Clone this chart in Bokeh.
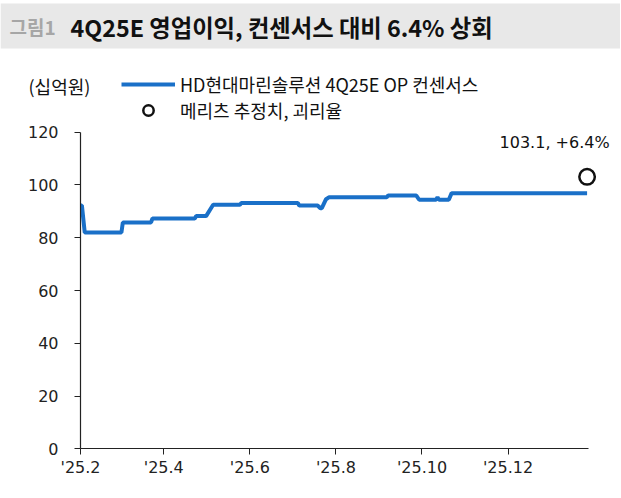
import pandas as pd
from bokeh.plotting import figure
from bokeh.models import (ColumnDataSource, FixedTicker, Range1d, Legend, LegendItem,
                          Label, BoxAnnotation)
from bokeh.embed import file_html
from bokeh.resources import INLINE

# ---------------- data ----------------
title_tag = "그림1"
title_text = "4Q25E 영업이익, 컨센서스 대비 6.4% 상회"
unit_label = "(십억원)"
series_name = "HD현대마린솔루션 4Q25E OP 컨센서스"
est_name = "메리츠 추정치, 괴리율"

cons_dates = ["2025-02-01", "2025-02-02", "2025-02-04", "2025-03-02", "2025-03-03",
              "2025-03-23", "2025-03-24", "2025-04-23", "2025-04-24", "2025-05-01",
              "2025-05-06", "2025-05-25", "2025-05-26", "2025-07-05", "2025-07-06",
              "2025-07-19", "2025-07-21", "2025-07-22", "2025-07-25", "2025-07-27",
              "2025-09-06", "2025-09-07", "2025-09-27", "2025-09-29", "2025-10-11",
              "2025-10-12", "2025-10-13", "2025-10-20", "2025-10-22", "2026-01-26"]
cons_values = [92.2, 92.2, 82.0, 82.0, 85.8,
               85.8, 87.3, 87.3, 88.2, 88.2,
               92.5, 92.5, 93.2, 93.2, 92.2,
               92.2, 91.2, 91.2, 94.6, 95.3,
               95.3, 96.0, 96.0, 94.4, 94.4,
               95.3, 94.4, 94.4, 96.9, 96.9]

est_date = "2026-01-26"
est_value = 103.1
est_text = "103.1, +6.4%"

x_start = "2025-02-01"
x_end = "2026-01-27"
x_tick_dates = ["2025-02-01", "2025-04-01", "2025-06-01", "2025-08-01", "2025-10-01", "2025-12-01"]
x_tick_labels = ["'25.2", "'25.4", "'25.6", "'25.8", "'25.10", "'25.12"]
y_min, y_max = 0, 120
y_ticks = [0, 20, 40, 60, 80, 100, 120]


def ms(s):
    return float(pd.Timestamp(s).value // 10**6)


# ---------------- layout (pixels) ----------------
W, H = 620, 496
AX_L, AX_R = 80, 588        # pixel columns where the x axis starts / ends
AX_TOP, AX_BOT = 131.7, 448.3   # pixel rows of y = 120 and y = 0

KRF = "Noto Sans CJK KR"
NUMF = "DejaVu Sans"

xs, xe = ms(x_start), ms(x_end)
x_scale = (xe - xs) / (AX_R - AX_L)
y_scale = (y_max - y_min) / (AX_BOT - AX_TOP)
x_range = Range1d(xs - AX_L * x_scale, xs + (W - AX_L) * x_scale)
y_range = Range1d(y_min - (H - AX_BOT) * y_scale, y_min + AX_BOT * y_scale)


def y_of_row(py):
    return y_min + (AX_BOT - py) * y_scale


p = figure(width=W, height=H, x_axis_type="datetime", x_range=x_range, y_range=y_range,
           toolbar_location=None, output_backend="svg", min_border=0)
p.grid.visible = False
p.outline_line_color = None
p.background_fill_color = "white"
p.border_fill_color = "white"

# title bar
p.add_layout(BoxAnnotation(top=y_of_row(3), bottom=y_of_row(48), fill_color="#e8e8e8",
                           fill_alpha=1, line_color=None, level="underlay"))
p.add_layout(Label(x=xs, y=y_max, x_offset=9 - AX_L, y_offset=AX_TOP - 26,
                   text=title_tag, text_align="left", text_baseline="middle",
                   text_font=KRF, text_font_style="bold", text_font_size="19px",
                   text_color="#a6a6a6"))
p.add_layout(Label(x=xs, y=y_max, x_offset=70 - AX_L, y_offset=AX_TOP - 26,
                   text=title_text, text_align="left", text_baseline="middle",
                   text_font=KRF, text_font_style="bold", text_font_size="23.3px",
                   text_color="#111111"))

# data
src = ColumnDataSource(dict(x=[ms(d) for d in cons_dates], y=cons_values))
line_r = p.line("x", "y", source=src, line_width=4, line_color="#1a70c8")

est_src = ColumnDataSource(dict(x=[ms(est_date)], y=[est_value]))
circ_r = p.scatter("x", "y", source=est_src, marker="circle", size=15.5,
                   fill_alpha=0, line_color="#111111", line_width=2.5)

p.add_layout(Label(x=ms(est_date), y=est_value, x_offset=-32.5, y_offset=34,
                   text=est_text, text_align="center", text_baseline="middle",
                   text_font=NUMF, text_font_size="16px", text_color="#111111"))
p.add_layout(Label(x=xs, y=y_max, x_offset=28 - AX_L, y_offset=AX_TOP - 85,
                   text=unit_label, text_align="left", text_baseline="middle",
                   text_font=KRF, text_font_size="18px", text_color="#111111"))

legend = Legend(items=[LegendItem(label=series_name, renderers=[line_r]),
                       LegendItem(label=est_name, renderers=[circ_r])],
                location=(121, 373), orientation="vertical",
                padding=0, margin=0, spacing=0, glyph_width=54, glyph_height=26,
                label_height=20, label_standoff=5, border_line_color=None,
                background_fill_alpha=0, label_text_font=KRF,
                label_text_font_size="18px", label_text_color="#111111")
p.add_layout(legend, "center")

for ax in (p.xaxis[0], p.yaxis[0]):
    ax.axis_line_color = "#222222"
    ax.axis_line_width = 1.2
    ax.major_tick_line_color = "#222222"
    ax.major_tick_in = 0
    ax.major_tick_out = 6
    ax.minor_tick_line_color = None
    ax.major_label_text_font = NUMF
    ax.major_label_text_font_size = "16px"
    ax.major_label_text_color = "#222222"

p.yaxis[0].fixed_location = xs
p.yaxis[0].bounds = (y_min, y_max)
p.yaxis[0].ticker = FixedTicker(ticks=y_ticks)
p.yaxis[0].major_label_standoff = 16
p.xaxis[0].fixed_location = y_min
p.xaxis[0].bounds = (xs, xe)
p.xaxis[0].ticker = FixedTicker(ticks=[ms(d) for d in x_tick_dates])
p.xaxis[0].major_label_overrides = {ms(d): lab for d, lab in zip(x_tick_dates, x_tick_labels)}
p.xaxis[0].major_label_standoff = 3

open("out.html", "w").write(file_html(p, INLINE))
